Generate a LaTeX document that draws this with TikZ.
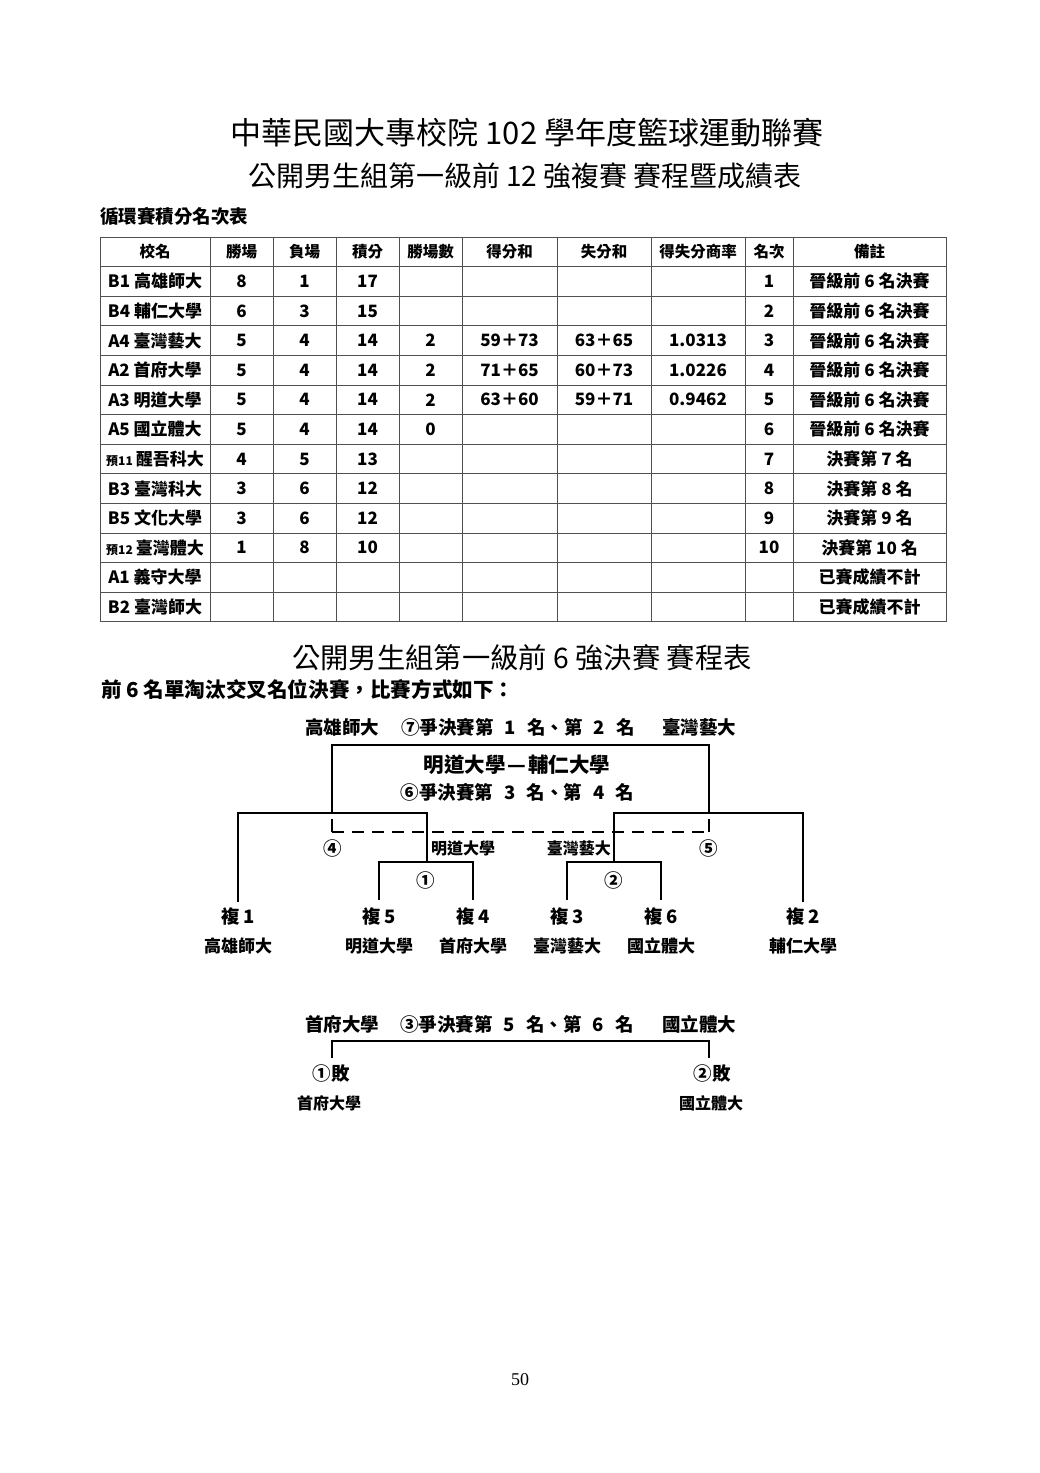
\documentclass[tikz,border=0pt]{standalone}
\usepackage{fontspec}
\setmainfont{Noto Sans CJK TC}
\newfontfamily\serif{Liberation Serif}
\usetikzlibrary{positioning}
\definecolor{ink}{HTML}{000000}
\definecolor{rule}{HTML}{505050}
\newcommand\smallpre[1]{{\fontsize{12}{12}\selectfont #1}\hspace{3pt}}
\newcommand\gap{\hspace{11pt}}
\tikzset{
  grid/.style={draw=rule, line width=0.9pt},
  brk/.style={draw=ink, line width=2.4pt, line cap=butt, line join=miter},
  brkd/.style={brk, dash pattern=on 12pt off 8pt},
  cell/.style={inner sep=0pt, text=ink, font=\fontsize{17}{17}\selectfont\bfseries},
  head/.style={cell, font=\fontsize{15.5}{16}\selectfont\bfseries},
  ttl/.style={inner sep=0pt, text=ink, font=\fontsize{31}{31}\selectfont},
  sub/.style={inner sep=0pt, text=ink, font=\fontsize{28}{28}\selectfont},
  lab/.style={inner sep=0pt, text=ink, font=\fontsize{18.5}{18.5}\selectfont\bfseries},
  labs/.style={inner sep=0pt, text=ink, font=\fontsize{17}{17}\selectfont\bfseries},
}
\begin{document}
\begin{tikzpicture}[x=1pt,y=-1pt]
  \fill[white] (0,0) rectangle (1040,1473);
  \useasboundingbox (0,0) rectangle (1040,1473);

  % titles
  \node[ttl] (title) at (527,133) {中華民國大專校院 102 學年度籃球運動聯賽};
  \node[sub] (subtitle) at (525,176) {公開男生組第一級前 12 強複賽 賽程暨成績表};
  \node[lab, anchor=west] (tabname) at (100,216) {循環賽積分名次表};

  % table grid
  \foreach \x in {100,210,273,336,399,462,557,651,745,793,946}
    \draw[grid] (\x,237) -- (\x,621.8);
  \foreach \r in {0,...,13}
    \draw[grid] (100,{237+29.6*\r}) -- (946,{237+29.6*\r});

  % header
  \foreach \h/\x [count=\c] in {校名/155,勝場/241.5,負場/304.5,積分/367.5,勝場數/430.5,
      得分和/509.5,失分和/604,得失分商率/698,名次/769,備註/869.5}
    \node[head] (h\c) at (\x,251.8) {\h};

  % rows
  \foreach \nm/\ws/\ls/\pts/\nw/\gf/\ga/\qt/\rk/\nt [count=\i] in {
      B1 高雄師大/8/1/17/{}/{}/{}/{}/1/晉級前 6 名決賽,
      B4 輔仁大學/6/3/15/{}/{}/{}/{}/2/晉級前 6 名決賽,
      A4 臺灣藝大/5/4/14/2/59＋73/63＋65/1.0313/3/晉級前 6 名決賽,
      A2 首府大學/5/4/14/2/71＋65/60＋73/1.0226/4/晉級前 6 名決賽,
      A3 明道大學/5/4/14/2/63＋60/59＋71/0.9462/5/晉級前 6 名決賽,
      A5 國立體大/5/4/14/0/{}/{}/{}/6/晉級前 6 名決賽,
      \smallpre{預11}醒吾科大/4/5/13/{}/{}/{}/{}/7/決賽第 7 名,
      B3 臺灣科大/3/6/12/{}/{}/{}/{}/8/決賽第 8 名,
      B5 文化大學/3/6/12/{}/{}/{}/{}/9/決賽第 9 名,
      \smallpre{預12}臺灣體大/1/8/10/{}/{}/{}/{}/10/決賽第 10 名,
      A1 義守大學/{}/{}/{}/{}/{}/{}/{}/{}/已賽成績不計,
      B2 臺灣師大/{}/{}/{}/{}/{}/{}/{}/{}/已賽成績不計} {
    \pgfmathsetmacro\y{237+29.6*(\i+0.5)}
    \node[cell] (nm\i) at (155,\y) {\nm};
    \node[cell] (ws\i) at (241.5,\y) {\ws};
    \node[cell] (ls\i) at (304.5,\y) {\ls};
    \node[cell] (pt\i) at (367.5,\y) {\pts};
    \node[cell] (nw\i) at (430.5,\y) {\nw};
    \node[cell] (gf\i) at (509.5,\y) {\gf};
    \node[cell] (ga\i) at (604,\y) {\ga};
    \node[cell] (qt\i) at (698,\y) {\qt};
    \node[cell] (rk\i) at (769,\y) {\rk};
    \node[cell] (nt\i) at (869.5,\y) {\nt};
  }

  % final six
  \node[sub, font=\fontsize{28.3}{28.3}\selectfont] (final) at (522,658) {公開男生組第一級前 6 強決賽 賽程表};
  \node[lab, font=\fontsize{20.6}{20.6}\selectfont\bfseries, anchor=west] (rule) at (101,690) {前 6 名單淘汰交叉名位決賽，比賽方式如下：};

  \node[lab] (w1) at (342,727) {高雄師大};
  \node[lab] (f12) at (518,727) {⑦爭決賽第\gap 1\gap{}名、第\gap 2\gap{}名};
  \node[lab] (w2) at (699,727) {臺灣藝大};
  \node[lab, font=\fontsize{20.5}{20.5}\selectfont\bfseries] (m34) at (517,765) {明道大學\hspace{2pt}—\hspace{2pt}輔仁大學};
  \node[lab] (f34) at (517.5,792) {⑥爭決賽第\gap 3\gap{}名、第\gap 4\gap{}名};
  \node[lab] (g4) at (333,848) {④};
  \node[labs, font=\fontsize{16}{16}\selectfont\bfseries, anchor=west] (s1w) at (431,848) {明道大學};
  \node[labs, font=\fontsize{16}{16}\selectfont\bfseries, anchor=east] (s2w) at (611,848) {臺灣藝大};
  \node[lab] (g5) at (709,848) {⑤};
  \node[lab] (g1) at (426,880) {①};
  \node[lab] (g2) at (614,880) {②};
  \foreach \x/\s/\t [count=\k] in {238/1/高雄師大,379/5/明道大學,473/4/首府大學,
      567/3/臺灣藝大,661/6/國立體大,803/2/輔仁大學} {
    \node[lab] (q\k) at (\x,916) {複 \s};
    \node[labs] (t\k) at (\x,946) {\t};
  }

  \coordinate (a1) at (238,902);
  \coordinate (a2) at (379,900);
  \coordinate (a3) at (473,900);
  \coordinate (a4) at (567,900);
  \coordinate (a5) at (661,900);
  \coordinate (a6) at (803,902);
  \coordinate (m1) at (427,862);
  \coordinate (m2) at (614,862);
  \coordinate (l2) at (427,813);
  \coordinate (r2) at (614,813);
  \coordinate (m4) at (332,813);
  \coordinate (m5) at (709,813);
  \coordinate (top) at (520,745);
  \coordinate (d4) at (332,819);
  \coordinate (d4b) at (332,832);
  \coordinate (d5) at (709,819);
  \coordinate (d5b) at (709,832);

  \draw[brk] (a2) |- (m1) -| (a3);
  \draw[brk] (a4) |- (m2) -| (a5);
  \draw[brk] (a1) |- (l2) -- (m1);
  \draw[brk] (a6) |- (r2) -- (m2);
  \draw[brk] (m4) |- (top) -| (m5);
  \draw[brk] (d4) -- (d4b);
  \draw[brk] (d5) -- (d5b);
  \draw[brkd] (d4b) -- (d5b);

  % fifth and sixth
  \node[lab] (w5) at (342,1024) {首府大學};
  \node[lab] (f56) at (517,1024) {③爭決賽第\gap 5\gap{}名、第\gap 6\gap{}名};
  \node[lab] (w6) at (699,1024) {國立體大};
  \node[lab] (x1) at (331,1073) {①敗};
  \node[lab] (x2) at (712,1073) {②敗};
  \node[labs, font=\fontsize{16}{16}\selectfont\bfseries] (y1) at (329,1103) {首府大學};
  \node[labs, font=\fontsize{16}{16}\selectfont\bfseries] (y2) at (711,1103) {國立體大};
  \coordinate (b1) at (332,1058);
  \coordinate (b2) at (709,1058);
  \coordinate (mid) at (520,1041);
  \draw[brk] (b1) |- (mid) -| (b2);

  \node[inner sep=0pt, font=\serif\fontsize{18}{18}\selectfont] (page) at (520,1380) {50};
\end{tikzpicture}
\end{document}
